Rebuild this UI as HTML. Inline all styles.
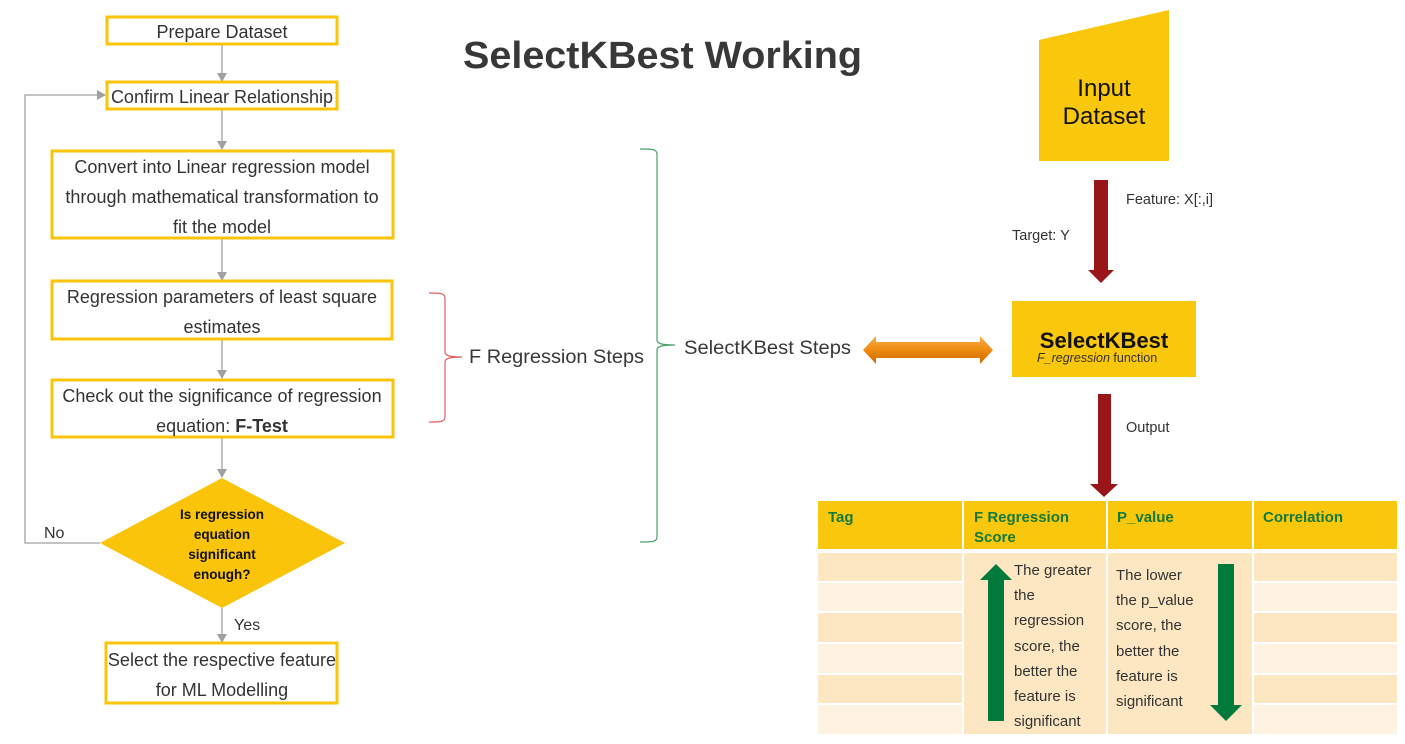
<!DOCTYPE html>
<html><head><meta charset="utf-8"><style>
html,body{margin:0;padding:0;background:#fff;}
svg{display:block;}
text{font-family:"Liberation Sans",sans-serif;}
</style></head><body>
<svg width="1405" height="744" viewBox="0 0 1405 744" xmlns="http://www.w3.org/2000/svg">
<defs>
<marker id="ga" markerWidth="10" markerHeight="10" refX="8" refY="5" orient="auto" markerUnits="userSpaceOnUse"><path d="M0,0 L9,5 L0,10 z" fill="#a0a0a0"/></marker>
<linearGradient id="og" x1="0" y1="0" x2="0" y2="1"><stop offset="0" stop-color="#f7b04a"/><stop offset="0.5" stop-color="#ef8a10"/><stop offset="1" stop-color="#c86a05"/></linearGradient>
</defs>
<text x="463" y="68" font-size="38" font-weight="bold" fill="#383838" textLength="399" lengthAdjust="spacingAndGlyphs">SelectKBest Working</text>

<g stroke="#a0a0a0" stroke-width="1.3" fill="none">
<line x1="222" y1="44" x2="222" y2="81" marker-end="url(#ga)"/>
<line x1="222" y1="109" x2="222" y2="149" marker-end="url(#ga)"/>
<line x1="222" y1="238" x2="222" y2="280" marker-end="url(#ga)"/>
<line x1="222" y1="339" x2="222" y2="378" marker-end="url(#ga)"/>
<line x1="222" y1="437" x2="222" y2="477" marker-end="url(#ga)"/>
<line x1="222" y1="608" x2="222" y2="642" marker-end="url(#ga)"/>
<polyline points="100,543 25,543 25,95 105,95" marker-end="url(#ga)"/>
</g>

<g fill="#fff" stroke="#f9c40a" stroke-width="3">
<rect x="107" y="17" width="230" height="27"/>
<rect x="107" y="82" width="230" height="27"/>
<rect x="52" y="151" width="341" height="87"/>
<rect x="52" y="281" width="340" height="58"/>
<rect x="52" y="380" width="341" height="57"/>
<rect x="106" y="643" width="231" height="60"/>
</g>
<g font-size="18" fill="#333" text-anchor="middle">
<text x="222" y="38">Prepare Dataset</text>
<text x="222" y="103">Confirm Linear Relationship</text>
<text x="222" y="173">Convert into Linear regression model</text>
<text x="222" y="203">through mathematical transformation to</text>
<text x="222" y="233">fit the model</text>
<text x="222" y="303">Regression parameters of least square</text>
<text x="222" y="333">estimates</text>
<text x="222" y="402">Check out the significance of regression</text>
<text x="222" y="432">equation: <tspan font-weight="bold">F-Test</tspan></text>
<text x="222" y="666">Select the respective feature</text>
<text x="222" y="696">for ML Modelling</text>
</g>

<polygon points="222,478 345,543 222,608 100,543" fill="#f9c40a"/>
<g font-size="13.5" font-weight="bold" fill="#111" text-anchor="middle">
<text x="222" y="519">Is regression</text>
<text x="222" y="539">equation</text>
<text x="222" y="559">significant</text>
<text x="222" y="579">enough?</text>
</g>
<text x="44" y="538" font-size="16" fill="#333">No</text>
<text x="234" y="630" font-size="16" fill="#333">Yes</text>

<path d="M429,293 C440,293 445,293 445,298 L445,352 C445,355 448,357 462,357 C448,357 445,359 445,362 L445,417 C445,422 440,422 429,422" fill="none" stroke="#e06060" stroke-width="1.2"/>
<text x="469" y="363" font-size="19" fill="#383838" textLength="175" lengthAdjust="spacingAndGlyphs">F Regression Steps</text>
<path d="M640,149 C652,149 657,149 657,154 L657,340 C657,343 660,345 675,345 C660,345 657,347 657,350 L657,537 C657,542 652,542 640,542" fill="none" stroke="#4aa06a" stroke-width="1.2"/>
<text x="684" y="354" font-size="19" fill="#383838" textLength="167" lengthAdjust="spacingAndGlyphs">SelectKBest Steps</text>

<polygon points="863,350 876,336 876,342 980,342 980,336 993,350 980,364 980,358 876,358 876,364" fill="url(#og)"/>

<polygon points="1039,40 1169,10 1169,161 1039,161" fill="#f9c70c"/>
<text x="1104" y="96" font-size="24" fill="#111" text-anchor="middle">Input</text>
<text x="1104" y="124" font-size="24" fill="#111" text-anchor="middle">Dataset</text>

<polygon points="1094,180 1108,180 1108,270 1114,270 1101,283 1088,270 1094,270" fill="#9a1518"/>
<text x="1126" y="204" font-size="14.5" fill="#333">Feature: X[:,i]</text>
<text x="1012" y="240" font-size="14.5" fill="#333">Target: Y</text>
<rect x="1012" y="301" width="184" height="76" fill="#f9c70c"/>
<text x="1104" y="348" font-size="22" font-weight="bold" fill="#111" text-anchor="middle">SelectKBest</text>
<text x="1037" y="362" font-size="12.5" fill="#333"><tspan font-style="italic">F_regression</tspan> function</text>
<polygon points="1098,394 1111,394 1111,484 1118,484 1104,497 1090,484 1098,484" fill="#9a1518"/>
<text x="1126" y="432" font-size="14.5" fill="#333">Output</text>

<g fill="#f9c70c">
<rect x="818" y="501" width="144" height="48"/>
<rect x="964" y="501" width="142" height="48"/>
<rect x="1108" y="501" width="144" height="48"/>
<rect x="1254" y="501" width="143" height="48"/>
</g>
<g font-size="15" font-weight="bold" fill="#157a3a">
<text x="828" y="522">Tag</text>
<text x="974" y="522">F Regression</text>
<text x="974" y="542">Score</text>
<text x="1117" y="522">P_value</text>
<text x="1263" y="522">Correlation</text>
</g>
<g>
<rect x="818" y="553" width="144" height="28" fill="#fde7c2"/>
<rect x="818" y="583" width="144" height="28" fill="#fef3e0"/>
<rect x="818" y="613" width="144" height="29" fill="#fde7c2"/>
<rect x="818" y="644" width="144" height="29" fill="#fef3e0"/>
<rect x="818" y="675" width="144" height="28" fill="#fde7c2"/>
<rect x="818" y="705" width="144" height="29" fill="#fef3e0"/>
<rect x="1254" y="553" width="143" height="28" fill="#fde7c2"/>
<rect x="1254" y="583" width="143" height="28" fill="#fef3e0"/>
<rect x="1254" y="613" width="143" height="29" fill="#fde7c2"/>
<rect x="1254" y="644" width="143" height="29" fill="#fef3e0"/>
<rect x="1254" y="675" width="143" height="28" fill="#fde7c2"/>
<rect x="1254" y="705" width="143" height="29" fill="#fef3e0"/>
<rect x="964" y="553" width="142" height="181" fill="#fde7c2"/>
<rect x="1108" y="553" width="144" height="181" fill="#fde7c2"/>
</g>
<polygon points="996,564 1012,580 1004,580 1004,721 988,721 988,580 980,580" fill="#027a3c"/>
<polygon points="1218,564 1234,564 1234,705 1242,705 1226,721 1210,705 1218,705" fill="#027a3c"/>
<g font-size="15" fill="#333">
<text x="1014" y="575">The greater</text>
<text x="1014" y="600">the</text>
<text x="1014" y="625">regression</text>
<text x="1014" y="651">score, the</text>
<text x="1014" y="676">better the</text>
<text x="1014" y="701">feature is</text>
<text x="1014" y="726">significant</text>
<text x="1116" y="580">The lower</text>
<text x="1116" y="605">the p_value</text>
<text x="1116" y="630">score, the</text>
<text x="1116" y="656">better the</text>
<text x="1116" y="681">feature is</text>
<text x="1116" y="706">significant</text>
</g>
</svg>
</body></html>
